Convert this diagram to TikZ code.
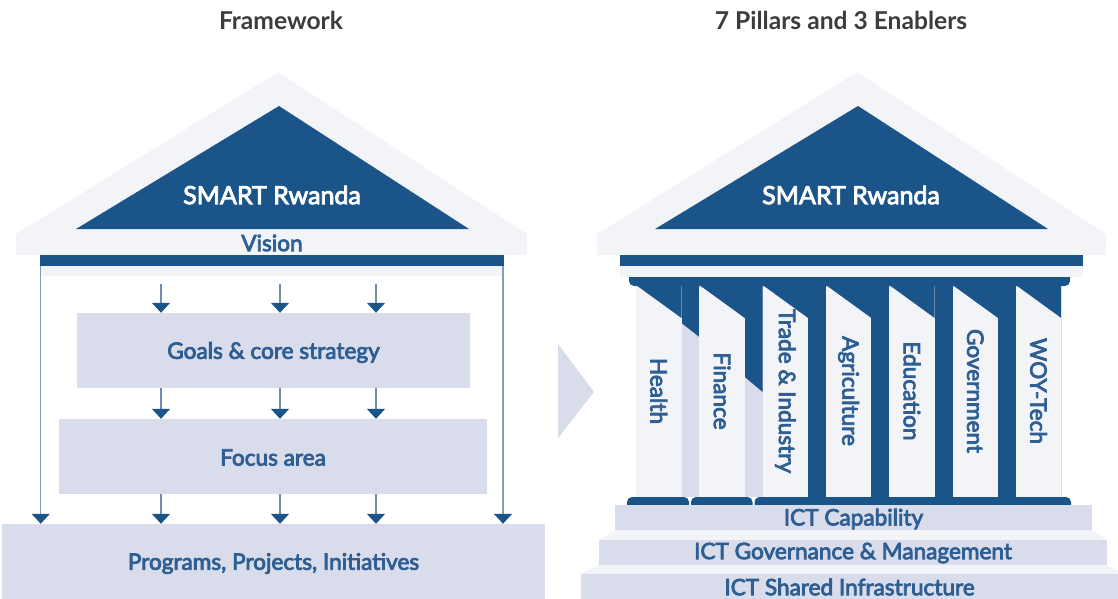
\documentclass[tikz,border=0pt]{standalone}
\usepackage{fontspec}
\setmainfont{Lato}
\newfontfamily\lblfont{Lato}[FakeBold=3.5]
\usetikzlibrary{arrows.meta}
\definecolor{dk}{HTML}{1B5488}
\definecolor{lt}{HTML}{F3F4F8}
\definecolor{md}{HTML}{D9DCEA}
\definecolor{tx}{HTML}{2E5E92}
\definecolor{ln}{HTML}{7F9CC0}
\definecolor{sh}{HTML}{6E8DB5}
\definecolor{ttl}{HTML}{3C3C3C}
\begin{document}
\begin{tikzpicture}[x=1pt,y=-1pt,
  lbl/.style={text=tx, font=\lblfont\fontsize{22.6}{26}\selectfont, inner sep=0},
  plbl/.style={lbl, rotate=-90},
  wlbl/.style={text=white, font=\lblfont\fontsize{25}{28}\selectfont, inner sep=0},
  ttlbl/.style={text=ttl, font=\bfseries\fontsize{24.6}{29}\selectfont, inner sep=0},
  box/.style={fill=md, inner sep=0},
  arr/.style={draw=sh, line width=1.3pt, -{Triangle[width=18pt,length=10pt,color=dk]}},
  longarr/.style={draw=ln, line width=1.5pt, -{Triangle[width=18pt,length=10pt,color=dk]}}
]
\useasboundingbox (0,0) rectangle (1118,599);

% titles
\node[ttlbl] (t1) at (281,20) {Framework};
\node[ttlbl] (t2) at (841,20) {7 Pillars and 3 Enablers};

% ---------------- left house ----------------
\fill[lt] (16,255) -- (16,234) -- (278,72) -- (527,234) -- (527,255) -- cycle;
\fill[dk] (76,229) -- (279,106) -- (469,229) -- cycle;
\node[wlbl] (sr1) at (272,195) {SMART Rwanda};
\node[lbl] (vision) at (272,243) {Vision};
\fill[lt] (40,266) rectangle (504,276);
\node[fill=dk, minimum width=464, minimum height=11, inner sep=0] (bar1) at (272,260.5) {};

\node[box, minimum width=393, minimum height=75] (goals) at (273.5,350.5) {};
\node[lbl, yshift=-2pt] at (goals) {Goals \& core strategy};
\node[box, minimum width=428, minimum height=75] (focus) at (273,456.5) {};
\node[lbl, yshift=-1pt] at (focus) {Focus area};
\node[box, minimum width=543, minimum height=77] (prog) at (273.5,562.5) {};
\node[lbl, yshift=-1pt] at (prog) {Programs, Projects, Initiatives};

\coordinate (c1) at (161,284);
\coordinate (c2) at (280,284);
\coordinate (c3) at (376,284);
\foreach \c in {c1,c2,c3}{
  \draw[arr] (\c) -- (\c |- goals.north);
  \draw[arr] (\c |- goals.south) -- (\c |- focus.north);
  \draw[arr] (\c |- focus.south) -- (\c |- prog.north);
}
\coordinate (l1) at (40.7,266);
\coordinate (l2) at (503,266);
\draw[longarr] (l1) -- (l1 |- prog.north);
\draw[longarr] (l2) -- (l2 |- prog.north);

% chevron
\fill[md] (558,344) -- (594,392) -- (558,438) -- cycle;

% ---------------- right house ----------------
\fill[lt] (597,255) -- (597,234) -- (857,72) -- (1106,234) -- (1106,255) -- cycle;
\fill[dk] (655,229) -- (858,106) -- (1048,229) -- cycle;
\node[wlbl] (sr2) at (851,195) {SMART Rwanda};

% gaps between pillars
\foreach \j in {0,...,5}{
  \pgfmathsetmacro\gl{636+63.3*\j+45.5}
  \pgfmathsetmacro\gr{636+63.3*(\j+1)}
  \fill[dk] (\gl,285) rectangle (\gr,497);
}
\fill[md] (681.5,285) rectangle (699.3,497);
\fill[dk] (681.5,285) -- (699.3,285) -- (699.3,337) -- (681.5,323) -- cycle;
\fill[md] (744.8,285) rectangle (762.6,497);
\fill[dk] (744.8,285) -- (762.6,285) -- (762.6,392) -- (744.8,377) -- cycle;

% pillars
\foreach \i/\t in {0/Health,1/Finance,2/{Trade \& Industry},3/Agriculture,4/Education,5/Government,6/WOY-Tech}{
  \pgfmathsetmacro\xl{636+63.3*\i}
  \pgfmathsetmacro\xr{\xl+45.5}
  \fill[lt] (\xl,285) rectangle (\xr,497);
  \fill[dk] (\xl,285) -- (\xr,285) -- (\xr,318) -- cycle;
  \node[plbl] (p\i) at ({\xl+22.75},391) {\t};
}
\draw[md, line width=0.8pt] (1015.8+45.5,286) -- (1015.8+45.5,497);

% capital
\fill[dk, rounded corners=5] (629,268) rectangle (1070,286);
\fill[lt] (620,266) rectangle (1083,276.5);
\node[fill=dk, minimum width=463, minimum height=11, inner sep=0] (bar2) at (851.5,260.5) {};

% base
\fill[dk, rounded corners=5] (627,497) rectangle (689,514);
\fill[dk, rounded corners=5] (691,497) rectangle (752.5,514);
\fill[dk, rounded corners=5] (754.5,497) rectangle (1071,514);

% steps
\fill[lt] (615,530) -- (1092,530) -- (1107,540) -- (599,540) -- cycle;
\fill[lt] (599,565) -- (1107,565) -- (1118,571) -- (1118,574) -- (581,574) -- cycle;
\node[box, minimum width=477, minimum height=25] (s1) at (853.5,517.5) {};
\node[lbl, yshift=-1.5pt] at (s1) {ICT Capability};
\node[box, minimum width=508, minimum height=25] (s2) at (853,552.5) {};
\node[lbl, yshift=-0.5pt] at (s2) {ICT Governance \& Management};
\node[box, minimum width=537, minimum height=26] (s3) at (849.5,587) {};
\node[lbl] at (s3) {ICT Shared Infrastructure};
\end{tikzpicture}
\end{document}
